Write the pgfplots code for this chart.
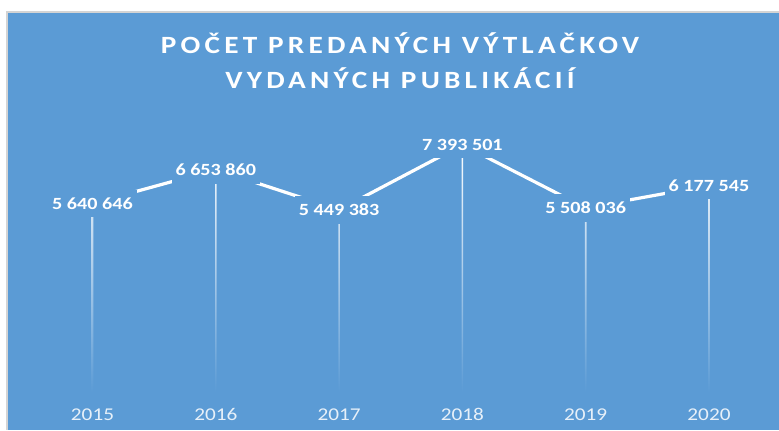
\documentclass[border=0pt]{standalone}
\usepackage{fontspec}
\usepackage{pgfplots}
\pgfplotsset{compat=1.18}
\setmainfont{Carlito}
\newfontfamily\titlefont[FakeStretch=1.18,LetterSpace=17]{Carlito}
\newfontfamily\stretchfont[FakeStretch=1.18]{Carlito}
\definecolor{bg}{HTML}{5B9BD5}
\definecolor{bordergray}{HTML}{D4D4D4}
\begin{document}
\begin{tikzpicture}
\useasboundingbox (0,0) rectangle (584.25pt,322.5pt);
\fill[white] (0,0) rectangle (584.25pt,322.5pt);
\fill[bordergray] (4.5pt,0) rectangle (584.25pt,314.25pt);
\begin{axis}[
  at={(6pt,0pt)}, anchor=south west,
  scale only axis, width=578.25pt, height=312.75pt,
  xmin=2014.3147, xmax=2020.5677,
  ymin=-1136700, ymax=11337000,
  axis background/.style={fill=bg},
  axis line style={draw=none},
  ytick=\empty,
  xtick={2015,2016,2017,2018,2019,2020},
  xticklabels={2015,2016,2017,2018,2019,2020},
  major tick length=0pt,
  xticklabel style={anchor=base, yshift=7.5pt, font=\stretchfont\fontsize{13.5pt}{16pt}\selectfont, text=white!85!bg},
  clip=false,
]
\addplot[ybar, bar width=1.2pt, draw=none, top color=white, bottom color=bg] coordinates {
(2015,5640646) (2016,6653860) (2017,5449383) (2018,7393501) (2019,5508036) (2020,6177545)};
\addplot[white, line width=2.4pt, mark=none, line join=round, nodes near coords, point meta=explicit symbolic,
  every node near coord/.append style={anchor=center, fill=bg, text=white, font=\stretchfont\bfseries\fontsize{12.8pt}{15pt}\selectfont, inner xsep=3pt, inner ysep=6pt}]
coordinates {
(2015,5640646) [5~640~646]
(2016,6653860) [6~653~860]
(2017,5449383) [5~449~383]
(2018,7393501) [7~393~501]
(2019,5508036) [5~508~036]
(2020,6177545) [6~177~545]
};
\node[anchor=base, text=white, font=\titlefont\bfseries\fontsize{18.6pt}{22pt}\selectfont] at (axis cs:2017.494,10126000) {POČET PREDANÝCH VÝTLAČKOV};
\node[anchor=base, text=white, font=\titlefont\bfseries\fontsize{18.6pt}{22pt}\selectfont] at (axis cs:2017.494,9079000) {VYDANÝCH PUBLIKÁCIÍ};
\end{axis}
\end{tikzpicture}
\end{document}
